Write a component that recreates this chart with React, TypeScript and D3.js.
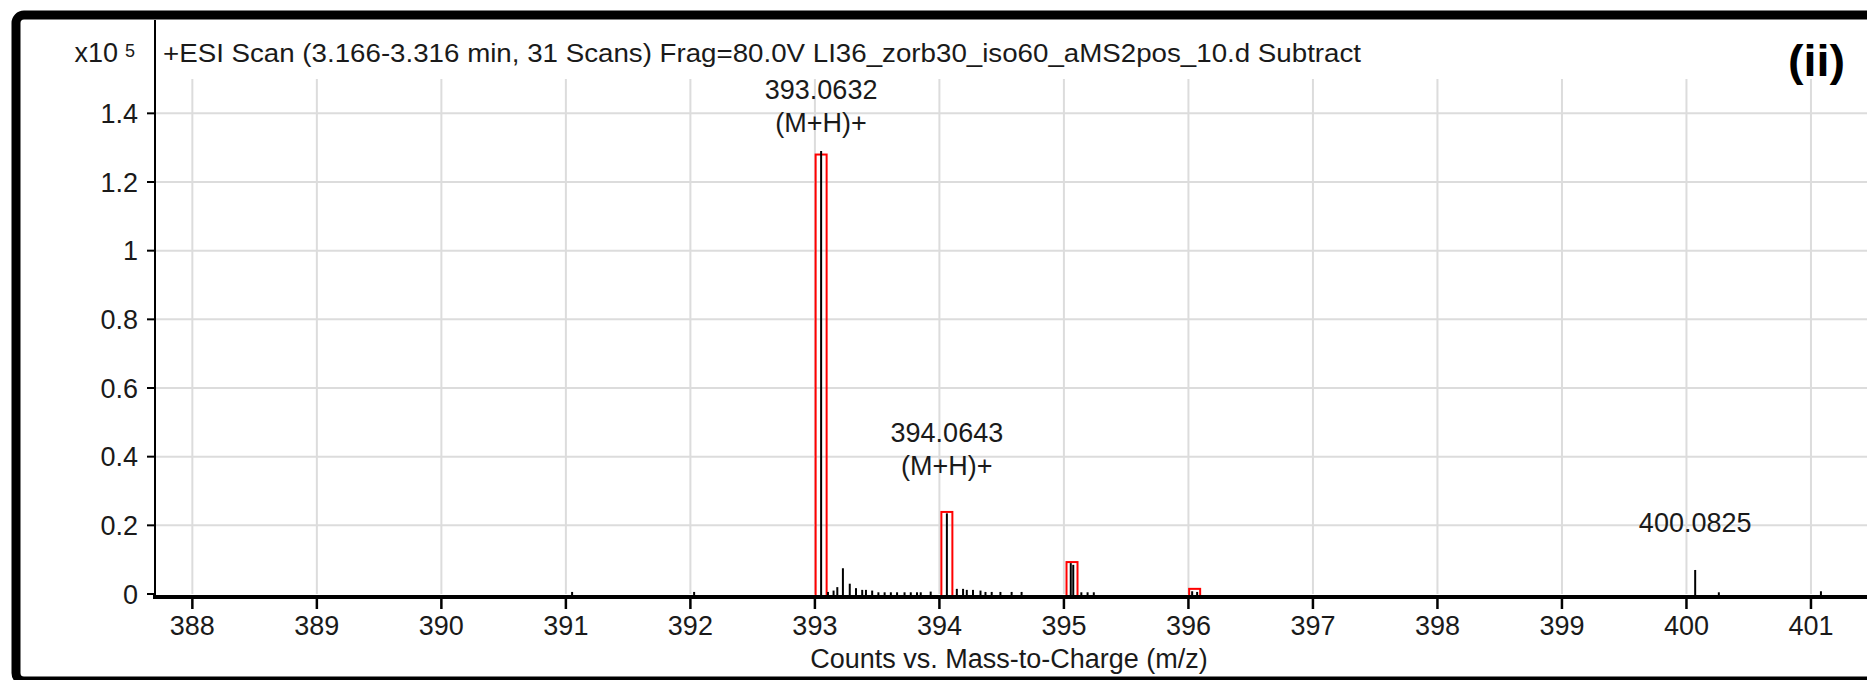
import { scaleLinear, range } from "d3";

// measured spectrum (m/z, counts x10^5)
const peakMz = [
  391.05, 392.03, 393.05, 393.105, 393.15, 393.18, 393.225, 393.28, 393.33, 393.38,
  393.41, 393.46, 393.51, 393.56, 393.61, 393.66, 393.72, 393.77, 393.82, 393.85,
  393.93, 394.06, 394.14, 394.19, 394.22, 394.27, 394.33, 394.37, 394.42, 394.49,
  394.58, 394.66, 395.055, 395.075, 395.14, 395.19, 395.24, 396.03, 396.07, 400.07,
  400.26, 401.08,
];
const peakValue = [
  0.006, 0.006, 1.29, 0.006, 0.01, 0.02, 0.075, 0.03, 0.017, 0.012,
  0.012, 0.01, 0.005, 0.005, 0.005, 0.005, 0.005, 0.005, 0.005, 0.005,
  0.007, 0.235, 0.015, 0.015, 0.012, 0.012, 0.01, 0.006, 0.006, 0.006,
  0.006, 0.006, 0.09, 0.085, 0.005, 0.005, 0.005, 0.008, 0.006, 0.07,
  0.005, 0.008,
];

// predicted isotope pattern (red boxes)
const isoMz = [393.05, 394.06, 395.065, 396.05];
const isoValue = [1.28, 0.239, 0.093, 0.015];

// peak annotations
const labelMz = [393.05, 394.06, 400.07];
const labelValue = [1.29, 0.235, 0.07];
const labelLines = [["393.0632", "(M+H)+"], ["394.0643", "(M+H)+"], ["400.0825"]];

const xTicks = range(388, 402);
const yTicks = [0, 0.2, 0.4, 0.6, 0.8, 1, 1.2, 1.4];

const title =
  "+ESI Scan (3.166-3.316 min, 31 Scans) Frag=80.0V LI36_zorb30_iso60_aMS2pos_10.d  Subtract";
const xTitle = "Counts vs. Mass-to-Charge (m/z)";

export default function App() {
  const width = 1867;
  const height = 680;
  const left = 155;
  const axisY = 597;

  const x = scaleLinear().domain([387.7, 401.45]).range([left, width]);
  const y = scaleLinear().domain([0, 1.5]).range([594, 79]);

  const font = "'Liberation Sans', Arial, sans-serif";
  const textColor = "#1a1a1a";
  const grid = "#dcdcdc";

  return (
    <svg
      width={width}
      height={height}
      viewBox={`0 0 ${width} ${height}`}
      style={{ position: "absolute", left: 0, top: 0, background: "#fff" }}
      fontFamily={font}
    >
      {/* outer frame */}
      <rect x={16} y={15} width={width + 40} height={666} rx={8} fill="#fff" stroke="#000" strokeWidth={9} />

      {/* grid */}
      {xTicks.map((t) => (
        <line key={"gx" + t} x1={x(t)} x2={x(t)} y1={y(1.5)} y2={y(0)} stroke={grid} strokeWidth={2} />
      ))}
      {yTicks.filter((t) => t > 0).map((t) => (
        <line key={"gy" + t} x1={left} x2={width} y1={y(t)} y2={y(t)} stroke={grid} strokeWidth={2} />
      ))}

      {/* isotope boxes */}
      {isoMz.map((m, i) => (
        <rect
          key={"iso" + i}
          x={x(m) - 5.5}
          y={y(isoValue[i])}
          width={11}
          height={axisY - 1 - y(isoValue[i])}
          fill="none"
          stroke="#ff0000"
          strokeWidth={2}
        />
      ))}

      {/* spectrum sticks */}
      {peakMz.map((m, i) => (
        <line
          key={"pk" + i}
          x1={x(m)}
          x2={x(m)}
          y1={axisY - 1}
          y2={Math.min(y(peakValue[i]), axisY - 3)}
          stroke="#000"
          strokeWidth={2}
        />
      ))}

      {/* peak labels */}
      {labelMz.map((m, i) => {
        const lines = labelLines[i];
        let last = y(labelValue[i]) - 38;
        let first = last - 33 * (lines.length - 1);
        if (first < 99) {
          last += 99 - first;
          first = 99;
        }
        return (
          <text key={"lb" + i} x={x(m)} textAnchor="middle" fontSize={27} fill={textColor}>
            {lines.map((s, j) => (
              <tspan key={j} x={x(m)} y={first + 33 * j}>
                {s}
              </tspan>
            ))}
          </text>
        );
      })}

      {/* y axis */}
      <line x1={left} x2={left} y1={20} y2={axisY} stroke="#000" strokeWidth={2} />
      {yTicks.map((t) => (
        <g key={"yt" + t}>
          <line x1={left - 8} x2={left} y1={y(t)} y2={y(t)} stroke="#000" strokeWidth={2} />
          <text x={138} y={y(t)} dy="0.36em" textAnchor="end" fontSize={27} fill={textColor}>
            {t}
          </text>
        </g>
      ))}
      <text x={118} y={62} textAnchor="end" fontSize={27} fill={textColor}>
        x10
      </text>
      <text x={125} y={57} fontSize={18} fill={textColor}>
        5
      </text>

      {/* x axis */}
      <line x1={left - 2} x2={width} y1={axisY} y2={axisY} stroke="#000" strokeWidth={4} />
      {xTicks.map((t) => (
        <g key={"xt" + t}>
          <line x1={x(t)} x2={x(t)} y1={axisY} y2={609} stroke="#000" strokeWidth={2.5} />
          <text x={x(t)} y={635} textAnchor="middle" fontSize={27} fill={textColor}>
            {t}
          </text>
        </g>
      ))}
      <text x={1009} y={668} textAnchor="middle" fontSize={27} fill={textColor}>
        {xTitle}
      </text>

      {/* title */}
      <text x={163} y={62} fontSize={26} fill={textColor} textLength={1198} lengthAdjust="spacingAndGlyphs">
        {title}
      </text>
      <text x={1788} y={76} fontSize={44} fontWeight="bold" fill="#000" textLength={57} lengthAdjust="spacingAndGlyphs">
        (ii)
      </text>
    </svg>
  );
}
